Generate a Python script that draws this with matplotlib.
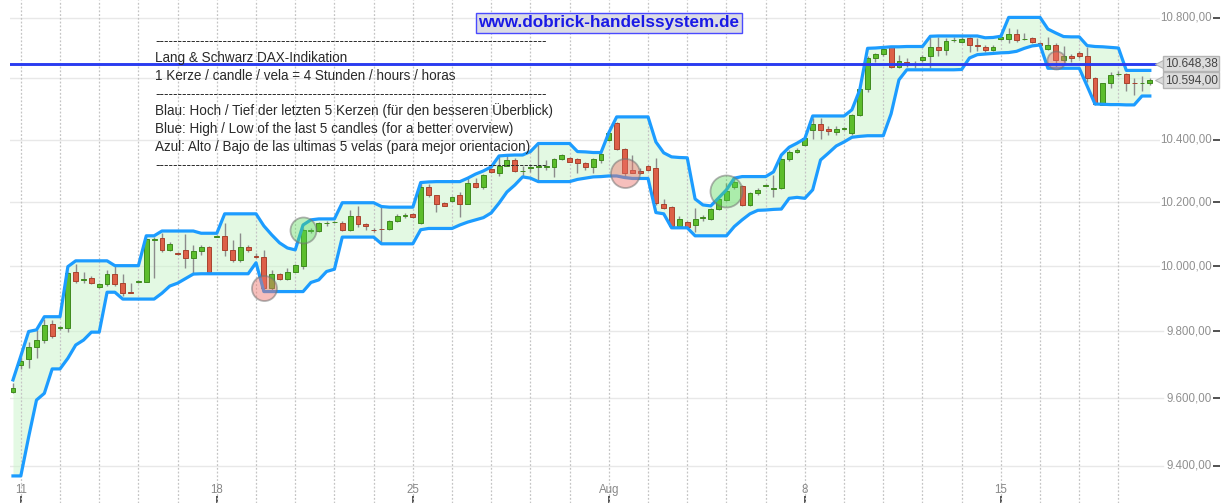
import numpy as np
import matplotlib
matplotlib.use("Agg")
import matplotlib.pyplot as plt
import matplotlib.transforms as mtransforms
from matplotlib.ticker import NullLocator

plt.rcParams['font.family'] = ['Liberation Sans', 'DejaVu Sans']

# Lang & Schwarz DAX, 4-Stunden-Kerzen (Index 0..145)
eroeffnung = [
    9619, 9700, 9716, 9753, 9774, 9823, 9811, 9811, 9981, 9958,
    9963, 9935, 9946, 9975, 9947, 9920, 9952, 9952, 10082, 10087,
    10051, 10040, 10051, 10025, 10047, 10060, 10092, 10095, 10052, 10019,
    10061, 10033, 10029, 9932, 9975, 9960, 9983, 10000, 10110, 10110,
    10134, 10137, 10136, 10113, 10156, 10132, 10114, 10116, 10116, 10141,
    10157, 10163, 10134, 10248, 10222, 10199, 10203, 10224, 10196, 10262,
    10248, 10305, 10294, 10317, 10335, 10299, 10309, 10313, 10312, 10314,
    10337, 10340, 10337, 10326, 10314, 10336, 10398, 10455, 10369, 10303,
    10301, 10316, 10308, 10194, 10186, 10125, 10138, 10128, 10151, 10149,
    10178, 10208, 10248, 10252, 10192, 10230, 10253, 10244, 10246, 10337,
    10362, 10383, 10432, 10450, 10435, 10425, 10436, 10421, 10481, 10564,
    10666, 10679, 10703, 10638, 10655, 10647, 10660, 10674, 10704, 10695,
    10727, 10719, 10733, 10709, 10705, 10695, 10729, 10731, 10745, 10729,
    10733, 10718, 10697, 10710, 10660, 10675, 10683, 10675, 10602, 10513,
    10586, 10613, 10613, 10584, 10583, 10585]
hoch = [
    9644, 9724, 9769, 9805, 9837, 9835, 9817, 9983, 10008, 9981,
    9970, 9948, 9989, 10000, 9975, 9948, 9957, 10087, 10091, 10105,
    10077, 10045, 10100, 10067, 10067, 10064, 10097, 10135, 10082, 10103,
    10066, 10040, 10052, 9989, 9978, 9994, 10006, 10121, 10118, 10138,
    10141, 10142, 10141, 10177, 10190, 10135, 10118, 10186, 10145, 10162,
    10167, 10166, 10266, 10259, 10225, 10201, 10221, 10233, 10277, 10277,
    10290, 10308, 10350, 10350, 10340, 10315, 10321, 10390, 10335, 10340,
    10353, 10345, 10340, 10329, 10340, 10362, 10426, 10458, 10372, 10350,
    10308, 10318, 10340, 10212, 10188, 10157, 10141, 10181, 10159, 10181,
    10213, 10262, 10280, 10254, 10232, 10245, 10257, 10287, 10340, 10367,
    10372, 10414, 10471, 10470, 10445, 10443, 10440, 10484, 10568, 10672,
    10683, 10704, 10707, 10677, 10668, 10656, 10677, 10735, 10735, 10734,
    10735, 10735, 10738, 10733, 10710, 10710, 10744, 10766, 10762, 10751,
    10736, 10721, 10735, 10716, 10708, 10680, 10690, 10705, 10605, 10586,
    10622, 10624, 10618, 10601, 10606, 10600]
tief = [
    9616, 9688, 9689, 9719, 9764, 9779, 9806, 9799, 9948, 9948,
    9945, 9933, 9939, 9939, 9907, 9917, 9947, 9950, 9963, 10045,
    10048, 10034, 9996, 9977, 10035, 9980, 10090, 10033, 10014, 10014,
    10045, 10027, 9927, 9927, 9958, 9958, 9981, 9991, 10104, 10107,
    10125, 10134, 10109, 10109, 10124, 10113, 10108, 10070, 10113, 10138,
    10152, 10150, 10132, 10217, 10170, 10188, 10201, 10155, 10194, 10245,
    10243, 10292, 10283, 10315, 10297, 10283, 10296, 10271, 10303, 10280,
    10335, 10327, 10294, 10304, 10292, 10326, 10395, 10367, 10280, 10292,
    10290, 10301, 10191, 10180, 10122, 10122, 10122, 10107, 10142, 10146,
    10176, 10206, 10243, 10190, 10188, 10223, 10251, 10217, 10243, 10333,
    10359, 10380, 10402, 10403, 10416, 10416, 10432, 10416, 10478, 10556,
    10655, 10674, 10634, 10635, 10638, 10634, 10655, 10633, 10672, 10677,
    10721, 10716, 10688, 10689, 10688, 10691, 10727, 10716, 10721, 10727,
    10718, 10707, 10694, 10636, 10655, 10655, 10668, 10589, 10513, 10513,
    10569, 10608, 10557, 10545, 10557, 10579]
schluss = [
    9629, 9712, 9754, 9774, 9820, 9787, 9813, 9978, 9955, 9960,
    9948, 9944, 9975, 9946, 9917, 9919, 9954, 10084, 10085, 10052,
    10070, 10038, 10025, 10048, 10060, 9982, 10094, 10052, 10019, 10061,
    10051, 10030, 9932, 9975, 9960, 9983, 10003, 10113, 10112, 10134,
    10135, 10139, 10113, 10156, 10132, 10127, 10112, 10115, 10141, 10157,
    10159, 10153, 10248, 10222, 10196, 10190, 10218, 10196, 10262, 10248,
    10287, 10296, 10315, 10335, 10300, 10301, 10311, 10316, 10316, 10337,
    10350, 10330, 10324, 10311, 10337, 10355, 10423, 10369, 10292, 10294,
    10292, 10303, 10197, 10183, 10125, 10149, 10123, 10149, 10153, 10178,
    10210, 10235, 10266, 10192, 10230, 10240, 10255, 10246, 10337, 10362,
    10367, 10406, 10451, 10432, 10427, 10435, 10437, 10481, 10564, 10666,
    10679, 10697, 10638, 10658, 10646, 10646, 10671, 10704, 10694, 10722,
    10728, 10730, 10710, 10708, 10694, 10705, 10738, 10745, 10727, 10730,
    10721, 10710, 10710, 10660, 10675, 10667, 10672, 10602, 10515, 10584,
    10612, 10614, 10583, 10583, 10584, 10594]

# Hoch / Tief der letzten 5 Kerzen (blaues Band)
band_oben = [
    9654, 9726, 9800, 9805, 9845, 9845, 9845, 9999, 10017, 10017,
    10017, 10017, 10017, 10002, 10002, 10002, 10002, 10095, 10095, 10110,
    10110, 10110, 10110, 10110, 10103, 10103, 10103, 10164, 10164, 10164,
    10164, 10164, 10126, 10098, 10073, 10057, 10051, 10129, 10145, 10148,
    10148, 10148, 10199, 10199, 10199, 10199, 10199, 10187, 10185, 10185,
    10185, 10185, 10263, 10265, 10266, 10266, 10266, 10266, 10277, 10290,
    10300, 10313, 10348, 10350, 10351, 10351, 10362, 10388, 10388, 10388,
    10388, 10388, 10362, 10361, 10359, 10359, 10423, 10474, 10474, 10474,
    10474, 10474, 10393, 10358, 10345, 10343, 10342, 10211, 10192, 10189,
    10214, 10240, 10277, 10282, 10282, 10282, 10282, 10297, 10351, 10376,
    10389, 10404, 10477, 10477, 10477, 10477, 10477, 10497, 10562, 10699,
    10700, 10702, 10704, 10704, 10705, 10705, 10705, 10739, 10740, 10740,
    10740, 10740, 10740, 10740, 10734, 10735, 10739, 10802, 10802, 10802,
    10802, 10802, 10763, 10750, 10738, 10737, 10737, 10708, 10705, 10704,
    10702, 10700, 10626, 10626, 10626, 10626]
band_unten = [
    9371, 9371, 9485, 9594, 9614, 9687, 9687, 9719, 9759, 9774,
    9798, 9798, 9920, 9920, 9899, 9899, 9899, 9899, 9899, 9917,
    9939, 9948, 9962, 9976, 9977, 9977, 9977, 9977, 9977, 9977,
    9977, 10011, 9922, 9922, 9922, 9922, 9922, 9922, 9950, 9958,
    9984, 9991, 10091, 10091, 10091, 10091, 10091, 10070, 10070, 10070,
    10070, 10070, 10114, 10118, 10118, 10118, 10118, 10129, 10138, 10145,
    10152, 10167, 10198, 10233, 10255, 10281, 10277, 10266, 10266, 10266,
    10266, 10266, 10273, 10277, 10281, 10282, 10284, 10284, 10279, 10276,
    10276, 10276, 10168, 10164, 10120, 10120, 10120, 10095, 10095, 10095,
    10095, 10095, 10124, 10145, 10164, 10175, 10176, 10178, 10179, 10213,
    10216, 10213, 10240, 10335, 10357, 10380, 10393, 10408, 10411, 10413,
    10413, 10413, 10484, 10595, 10628, 10628, 10628, 10628, 10628, 10628,
    10628, 10629, 10667, 10678, 10680, 10682, 10684, 10685, 10689, 10699,
    10707, 10710, 10633, 10633, 10633, 10633, 10633, 10575, 10516, 10515,
    10514, 10514, 10513, 10513, 10542, 10542]

# Signale (Kreise)
signal_idx = [32, 37, 78, 91, 133]
signal_art = ['short', 'long', 'short', 'long', 'short']
signal_durchmesser = [25, 26, 29, 32, 18]   # Pixel

y_werte = [9400, 9600, 9800, 10000, 10200, 10400, 10600, 10800]
x_tick_idx = [1, 26, 51, 76, 101, 126]
x_tick_text = ['11', '18', '25', 'Aug', '8', '15']

kurs_linie = 10648.38
kurs_letzter = 10594.00


def de_format(v):
    s = '{:,.2f}'.format(v)
    return s.replace(',', 'X').replace('.', ',').replace('X', '.')


fig = plt.figure(figsize=(12.26, 5.03), dpi=100)
ax = fig.add_axes([10 / 1226, 0, 1210 / 1226, 1])
ax.set_yscale('log')
ax.set_xlim(-0.38, 153.95)
ax.set_ylim(9292.7, 10860.4)
for s in ax.spines.values():
    s.set_visible(False)

x = np.arange(len(schluss))
o = np.array(eroeffnung, dtype=float)
c = np.array(schluss, dtype=float)

# gitter
for v in y_werte:
    ax.axhline(v, xmax=0.953, color='#e8e8e8', lw=1, zorder=0)
for d in range(1, len(schluss), 5):
    ax.axvline(d, color='#c4c4c4', lw=0.9, ls=(0, (1.5, 1.5)), zorder=2)

# band
ax.fill_between(x, band_unten, band_oben, color='#c9f5c9', alpha=0.5, lw=0, zorder=1)

# kerzen
ax.vlines(x, tief, hoch, color='#8c8c8c', lw=1, zorder=3)
gruen = c >= o
unten = np.minimum(o, c)
hoehe = np.abs(c - o)
ax.bar(x[gruen], hoehe[gruen], bottom=unten[gruen], width=0.62,
       color='#5cbd2c', edgecolor='#3f8a1e', lw=0.7, zorder=4)
ax.bar(x[~gruen], hoehe[~gruen], bottom=unten[~gruen], width=0.62,
       color='#dd6048', edgecolor='#a8432f', lw=0.7, zorder=4)

ax.plot(x, band_oben, color='#1c9cff', lw=2.3, zorder=5, solid_joinstyle='round')
ax.plot(x, band_unten, color='#1c9cff', lw=2.3, zorder=5, solid_joinstyle='round')

# signalkreise
for i, art, d in zip(signal_idx, signal_art, signal_durchmesser):
    fc = (0.93, 0.45, 0.42, 0.45) if art == 'short' else (0.35, 0.85, 0.35, 0.4)
    ax.scatter([i], [schluss[i]], s=(d * 0.72) ** 2, facecolor=fc,
               edgecolor=(0.45, 0.45, 0.45, 0.55), lw=1.3, zorder=6)

ax.axhline(kurs_linie, xmax=0.955, color='#2a3cf0', lw=2.1, zorder=7)

# achsen
ax.yaxis.tick_right()
ax.set_yticks(y_werte)
ax.yaxis.set_minor_locator(NullLocator())
ax.set_yticklabels([])
ax.tick_params(axis='y', direction='in', length=5, width=1.2, color='#333333')
ax.set_xticks(x_tick_idx)
ax.set_xticklabels([])
ax.tick_params(axis='x', direction='in', length=5, width=1.2, color='#333333')

trans_y = mtransforms.blended_transform_factory(ax.transAxes, ax.transData)
trans_x = mtransforms.blended_transform_factory(ax.transData, ax.transAxes)
for v in y_werte:
    # Beschriftung, die unter den Kursmarken liegt, ist im Original verdeckt
    if min(abs(v - kurs_linie), abs(v - kurs_letzter)) < 60:
        continue
    ax.text(0.9934, v, de_format(v), transform=trans_y, ha='right', va='center',
            color='#909090', fontsize=8.3, zorder=8,
            bbox=dict(facecolor='white', edgecolor='none', pad=0.5))
for i, t in zip(x_tick_idx, x_tick_text):
    ax.text(i, 0.026, t, transform=trans_x, ha='center', va='center',
            color='#888888', fontsize=8.3)

# kurs-marken rechts
for v in [kurs_linie, kurs_letzter]:
    ax.text(0.998, v, de_format(v), transform=trans_y, ha='right', va='center',
            color='#444444', fontsize=8.6, zorder=10,
            bbox=dict(facecolor='#dcdcdc', edgecolor='#b4b4b4', pad=1.2))
    ax.plot([0.9505], [v], marker='<', markersize=7.5, color='#dcdcdc',
            markeredgecolor='#b4b4b4', markeredgewidth=0.8, transform=trans_y,
            zorder=9, clip_on=False)

# text
zeilen = [
    ('-' * 87, 41),
    ('Lang & Schwarz DAX-Indikation', 58),
    ('1 Kerze / candle / vela = 4 Stunden / hours / horas', 76),
    ('-' * 87, 94),
    ('Blau: Hoch / Tief der letzten 5 Kerzen (für den besseren Überblick)', 111),
    ('Blue: High / Low of the last 5 candles (for a better overview)', 129),
    ('Azul: Alto / Bajo de las ultimas 5 velas (para mejor orientacion)', 147),
    ('-' * 87, 165),
]
for t, py in zeilen:
    fig.text(155 / 1226, 1 - py / 503, t, ha='left', va='center',
             fontsize=9.75, color='#2a2a2a', zorder=11)

fig.text(609 / 1226, 1 - 23 / 503, 'www.dobrick-handelssystem.de', ha='center',
         va='center', fontsize=12.3, weight='bold', color='#1a1ae6', zorder=12,
         bbox=dict(facecolor='#dcdce4', edgecolor='#4a4aff', boxstyle='square,pad=0.12'))

plt.savefig('out.png', dpi=100)
